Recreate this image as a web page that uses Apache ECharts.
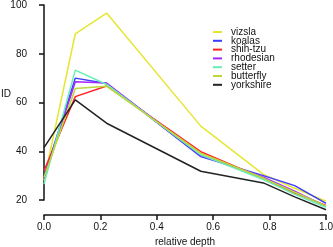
<!DOCTYPE html>
<html><head><meta charset="utf-8">
<script src="https://cdn.jsdelivr.net/npm/echarts@6/dist/echarts.min.js"></script>
<style>html,body{margin:0;padding:0;background:#fff}#c{width:333px;height:247px}</style>
</head><body><div id="c"></div>
<script>
const depth = [0, 0.111, 0.222, 0.556, 0.778, 0.889, 1.0];
const vizsla    = [28.0, 88.2, 96.7, 50.3, 30.5, 24.8, 19.5];
const koalas    = [29.5, 70.0, 67.8, 37.8, 30.0, 25.9, 18.6];
const shihTzu   = [32.0, 62.4, 66.8, 39.8, 28.8, 22.8, 17.8];
const rhodesian = [28.8, 68.5, 68.0, 38.3, 29.4, 23.6, 17.4];
const setter    = [26.5, 73.3, 67.4, 38.5, 28.4, 22.3, 17.0];
const butterfly = [29.2, 65.7, 66.7, 39.2, 29.0, 23.2, 17.6];
const yorkshire = [41.5, 61.1, 51.5, 31.8, 27.0, 21.3, 16.0];
const names  = ['vizsla','koalas','shih-tzu','rhodesian','setter','butterfly','yorkshire'];
const values = [vizsla, koalas, shihTzu, rhodesian, setter, butterfly, yorkshire];
const colors = ['#e6e632','#3c3cff','#ff2222','#a428ff','#66f0b4','#bcd83a','#222222'];
const xTicks = [0, 0.2, 0.4, 0.6, 0.8, 1.0];
const yTicks = [20, 40, 60, 80, 100];

const font = 'Liberation Sans, Arial, Helvetica, sans-serif';
const chart = echarts.init(document.getElementById('c'), null, {renderer:'canvas'});
chart.setOption({
  animation: false,
  textStyle: {fontFamily: font},
  title: {text: 'ID', left: 1, top: 89, padding: 0,
    textStyle: {fontFamily: font, fontSize: 10, fontWeight: 'normal', color: '#111'}},
  grid: {left: 44, right: 7, top: 5, bottom: 47, outerBoundsMode: 'none', containLabel: false},
  legend: {
    orient: 'vertical', left: 213, top: 27, itemGap: -1.2, padding: 0,
    itemWidth: 9, itemHeight: 2, icon: 'rect',
    data: names,
    textStyle: {fontFamily: font, fontSize: 10, color: '#111', padding: [0,0,0,4]}
  },
  xAxis: {
    type: 'value', min: 0, max: 1, interval: 0.2, offset: 15,
    name: 'relative depth', nameLocation: 'middle', nameGap: 20,
    nameTextStyle: {fontFamily: font, fontSize: 10, color: '#111'},
    axisLine: {lineStyle: {color: '#111', width: 1.5}},
    axisTick: {length: 5, lineStyle: {color: '#111', width: 1.5}},
    axisLabel: {fontSize: 10, color: '#111', margin: 7,
      formatter: v => xTicks.includes(Math.round(v*10)/10) ? v.toFixed(1) : ''},
    splitLine: {show: false}
  },
  yAxis: {
    type: 'value', min: 20, max: 100, interval: 20, offset: 9,
    axisLine: {show: true, lineStyle: {color: '#111', width: 1.5}},
    axisTick: {show: true, length: 5, lineStyle: {color: '#111', width: 1.5}},
    axisLabel: {fontSize: 10, color: '#111', margin: 8,
      formatter: v => yTicks.includes(v) ? String(v) : ''},
    splitLine: {show: false}
  },
  series: names.map((n, i) => ({
    name: n, type: 'line', clip: false, symbol: 'none',
    color: colors[i],
    lineStyle: {width: 1.5, color: colors[i]},
    data: depth.map((d, j) => [d, values[i][j]])
  }))
});
</script></body></html>
